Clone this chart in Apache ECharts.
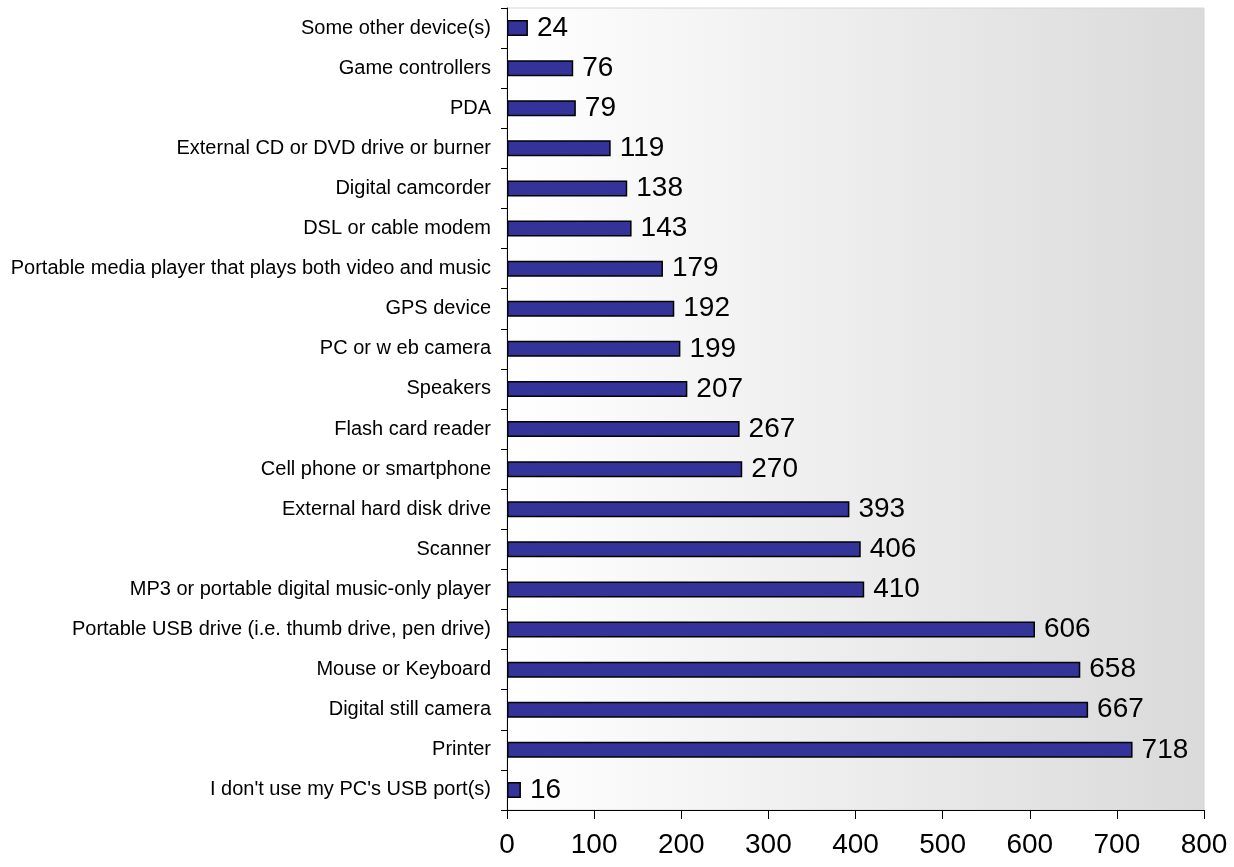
<!DOCTYPE html>
<html>
<head>
<meta charset="utf-8">
<script src="https://cdn.jsdelivr.net/npm/echarts@6/dist/echarts.min.js"></script>
<style>
  html, body { margin: 0; padding: 0; background: #ffffff; }
  #chart { width: 1234px; height: 867px; }
</style>
</head>
<body>
<div id="chart"></div>
<script>
// Devices connected to a PC's USB port(s), bottom to top
const devices = [
  "I don't use my PC's USB port(s)",
  "Printer",
  "Digital still camera",
  "Mouse or Keyboard",
  "Portable USB drive (i.e. thumb drive, pen drive)",
  "MP3 or portable digital music-only player",
  "Scanner",
  "External hard disk drive",
  "Cell phone or smartphone",
  "Flash card reader",
  "Speakers",
  "PC or w eb camera",
  "GPS device",
  "Portable media player that plays both video and music",
  "DSL or cable modem",
  "Digital camcorder",
  "External CD or DVD drive or burner",
  "PDA",
  "Game controllers",
  "Some other device(s)"
];
const counts = [16, 718, 667, 658, 606, 410, 406, 393, 270, 267, 207, 199, 192, 179, 143, 138, 119, 79, 76, 24];
const xTicks = [0, 100, 200, 300, 400, 500, 600, 700, 800];

const chart = echarts.init(document.getElementById('chart'), null, { renderer: 'canvas' });
const font = 'Arial, "Liberation Sans", sans-serif';

chart.setOption({
  animation: false,
  grid: {
    left: 507, right: 30, top: 8, bottom: 57,
    show: true,
    borderWidth: 1,
    borderColor: '#d6d6d6',
    backgroundColor: new echarts.graphic.LinearGradient(0, 0, 1, 0, [
      { offset: 0, color: '#ffffff' },
      { offset: 1, color: '#dadada' }
    ])
  },
  xAxis: {
    type: 'value',
    min: xTicks[0],
    max: xTicks[xTicks.length - 1],
    interval: 100,
    axisLine: { show: true, lineStyle: { color: '#000', width: 1 } },
    axisTick: { show: true, length: 9, lineStyle: { color: '#000' } },
    splitLine: { show: false },
    axisLabel: { fontFamily: font, fontSize: 28, color: '#000', margin: 21 }
  },
  yAxis: {
    type: 'category',
    data: devices,
    axisLine: { show: true, lineStyle: { color: '#000', width: 1 } },
    axisTick: { show: true, length: 6, alignWithLabel: false, lineStyle: { color: '#000' } },
    axisLabel: { fontFamily: font, fontSize: 20, color: '#000', margin: 16 }
  },
  series: [{
    type: 'bar',
    data: counts,
    barWidth: 16,
    itemStyle: { color: '#333399', borderColor: '#000', borderWidth: 1.5 },
    label: {
      show: true,
      position: 'right',
      distance: 9,
      fontFamily: font,
      fontSize: 28,
      color: '#000'
    }
  }]
});
</script>
</body>
</html>
